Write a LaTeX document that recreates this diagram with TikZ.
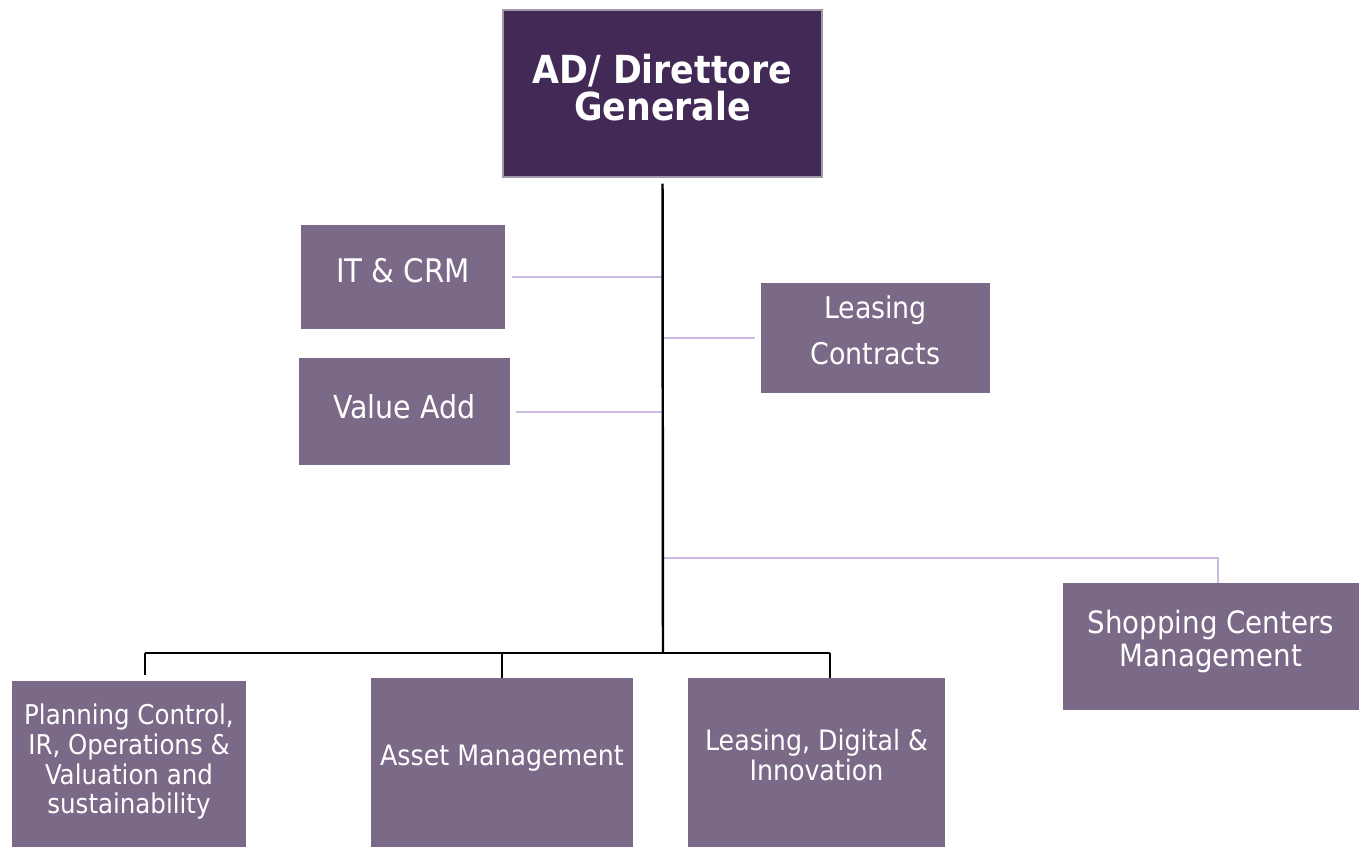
\documentclass[tikz,border=0pt]{standalone}
\usepackage{fontspec}
\setmainfont{DejaVu Sans Condensed}
\usetikzlibrary{positioning}

\definecolor{topfill}{HTML}{432A56}
\definecolor{boxfill}{HTML}{7A6987}
\definecolor{lilac}{HTML}{CBBCDF}

\tikzset{
  unit/.style={rectangle, fill=boxfill, text=white, align=center, inner sep=2pt},
  head/.style={unit, fill=topfill, draw=boxfill!70, line width=0.6pt, font=\bfseries\fontsize{22}{21.5}\selectfont},
  staffline/.style={draw=lilac, line width=1.1pt},
  lineline/.style={draw=black, line width=1.4pt}
}

\begin{document}
\begin{tikzpicture}[x=0.02cm, y=0.02cm]

  \useasboundingbox (0,0) rectangle (1359,847);

  \node[head, minimum width=319*0.02cm, minimum height=167*0.02cm] (ad) at (662.5,753.5) {AD/ Direttore\\Generale\rule[-7pt]{0pt}{1pt}};

  \node[unit, minimum width=204*0.02cm, minimum height=104*0.02cm, font=\fontsize{18.5}{26}\selectfont] (itcrm) at (403,570) {IT \& CRM\rule[-8pt]{0pt}{1pt}};
  \node[unit, minimum width=211*0.02cm, minimum height=107*0.02cm, font=\fontsize{18}{26}\selectfont] (valueadd) at (404.5,435) {Value Add\rule[-6pt]{0pt}{1pt}};
  \node[unit, minimum width=229*0.02cm, minimum height=110*0.02cm, font=\fontsize{17}{26}\selectfont] (contracts) at (875.5,509) {Leasing\\Contracts\rule[-9pt]{0pt}{1pt}};
  \node[unit, minimum width=296*0.02cm, minimum height=127*0.02cm, font=\fontsize{17.5}{19}\selectfont] (shopping) at (1211,200.5) {Shopping Centers\\Management\rule[-9pt]{0pt}{1pt}};

  \node[unit, minimum width=234*0.02cm, minimum height=166*0.02cm, font=\fontsize{15.5}{17}\selectfont] (planning) at (129,83) {Planning Control,\\IR, Operations \&\\Valuation and\\sustainability\rule[-6pt]{0pt}{1pt}};
  \node[unit, minimum width=262*0.02cm, minimum height=169*0.02cm, font=\fontsize{16}{17}\selectfont] (asset) at (502,84.5) {Asset Management\rule[-8pt]{0pt}{1pt}};
  \node[unit, minimum width=257*0.02cm, minimum height=169*0.02cm, font=\fontsize{16}{17}\selectfont] (digital) at (816.5,84.5) {Leasing, Digital \&\\Innovation\rule[-9pt]{0pt}{1pt}};

  \coordinate (bus) at (663,194);
  \coordinate (busleft) at (145,194);
  \coordinate (busright) at (830,194);
  \coordinate (shopbend) at (1218,289);

  \draw[staffline, shorten <=7*0.02cm] (itcrm.east) -- (itcrm.east -| bus);
  \draw[staffline, shorten <=6*0.02cm] (valueadd.east) -- (valueadd.east -| bus);
  \draw[staffline, shorten >=6*0.02cm] (contracts.west -| bus) -- (contracts.west);
  \draw[staffline] (shopbend -| bus) -- (shopbend) -- (shopbend |- shopping.north);

  \draw[lineline, shorten <=6*0.02cm] (ad.south) -- (bus);
  \draw[lineline] (busleft) -- (busright);
  \draw[lineline, shorten >=6*0.02cm] (busleft) -- (busleft |- planning.north);
  \draw[lineline] (asset.north |- bus) -- (asset.north);
  \draw[lineline] (busright) -- (busright |- digital.north);

\end{tikzpicture}
\end{document}
